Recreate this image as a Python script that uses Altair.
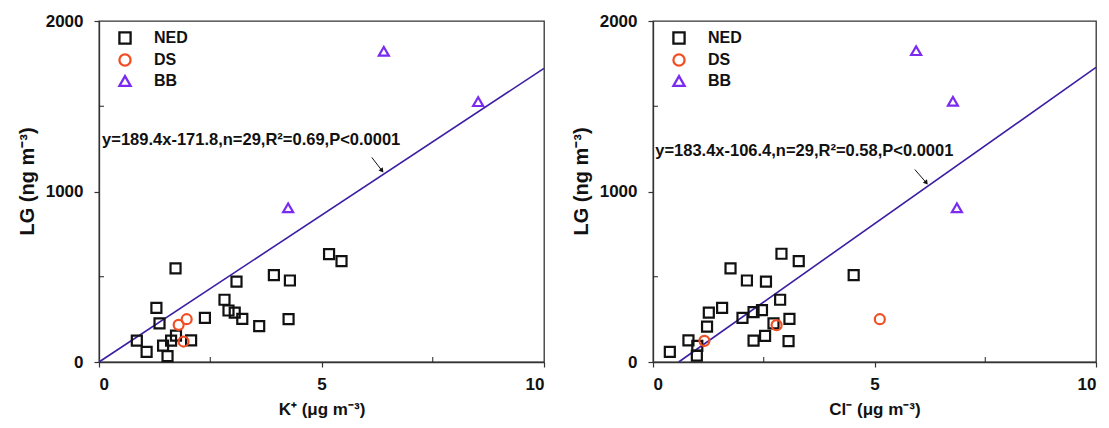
import altair as alt
import pandas as pd

groups = ["NED", "DS", "BB"]
colors = ["#111111", "#F04E23", "#7B2BF0"]
shapes = ["square", "circle", "triangle-up"]
line_color = "#3C1EA5"
FONT = "Liberation Sans"

# Left panel: K+ vs LG
k_ned_x = [0.85, 1.07, 1.54, 1.44, 1.62, 1.73, 2.07, 1.36, 1.29, 1.72, 2.38,
           2.82, 2.91, 3.05, 3.09, 3.22, 3.60, 3.93, 4.29, 4.26, 5.17, 5.45]
k_ned_y = [125, 59, 35, 96, 125, 155, 127, 227, 317, 549, 259,
           365, 302, 290, 471, 253, 210, 510, 478, 251, 633, 592]
k_ds_x = [1.79, 1.97, 1.90]
k_ds_y = [218, 251, 120]
k_bb_x = [6.40, 8.52, 4.25]
k_bb_y = [1822, 1527, 904]
k_line_x = [0, 10]
k_line_y = [0, 1722]
k_eq = "y=189.4x-171.8,n=29,R²=0.69,P<0.0001"
k_eq_pos = [0.07, 1273]
k_arrow = [6.13, 1200, 6.36, 1122]

# Right panel: Cl- vs LG
cl_ned_x = [0.38, 0.99, 1.00, 0.80, 1.22, 1.26, 1.56, 1.75, 2.02, 2.12, 2.27,
            2.27, 2.46, 2.53, 2.55, 2.72, 2.87, 2.90, 3.08, 3.06, 3.29, 4.53]
cl_ned_y = [59, 37, 94, 127, 208, 290, 318, 549, 259, 478, 292,
            125, 304, 153, 471, 227, 365, 635, 253, 122, 592, 510]
cl_ds_x = [1.16, 2.79, 5.12]
cl_ds_y = [124, 216, 251]
cl_bb_x = [5.94, 6.77, 6.86]
cl_bb_y = [1826, 1529, 904]
cl_line_x = [0.58, 10]
cl_line_y = [0, 1727.6]
cl_eq = "y=183.4x-106.4,n=29,R²=0.58,P<0.0001"
cl_eq_pos = [0.05, 1208]
cl_arrow = [5.91, 1129, 6.17, 1051]

x_ticks = [0, 5, 10]
y_ticks = [0, 1000, 2000]
x_minor = [2.5, 7.5]
y_minor = [500, 1500]


def panel(nx, ny, dx, dy, bx, by, lx, ly, eq, eqp, arr, xtitle, width):
    height = 341
    pts = pd.DataFrame({
        "x": nx + dx + bx,
        "y": ny + dy + by,
        "g": ["NED"] * len(nx) + ["DS"] * len(dx) + ["BB"] * len(bx),
    })
    xs = alt.Scale(domain=[0, 10], nice=False, zero=False)
    ys = alt.Scale(domain=[0, 2000], nice=False)
    xax = alt.Axis(values=x_ticks, title=xtitle, grid=False, labelPadding=9,
                   titlePadding=9, tickSize=5, format="d")
    yax = alt.Axis(values=y_ticks, title="LG (ng m⁻³)", grid=False, labelPadding=11,
                   titlePadding=8, tickSize=5, format="d", titleFontSize=20, titleY=160)
    X = lambda f: alt.X(f, type="quantitative", scale=xs, axis=xax)
    Y = lambda f: alt.Y(f, type="quantitative", scale=ys, axis=yax)

    leg = alt.Legend(title=None, orient="none", legendX=18, legendY=9,
                     labelFont=FONT, labelFontWeight="bold", labelFontSize=16,
                     labelColor="#111", symbolSize=125, symbolStrokeWidth=2.3,
                     symbolFillColor="white", rowPadding=0, labelOffset=21,
                     padding=0)
    points = alt.Chart(pts).mark_point(filled=False, size=100, strokeWidth=2.2, opacity=1).encode(
        x=X("x"), y=Y("y"),
        color=alt.Color("g:N", scale=alt.Scale(domain=groups, range=colors), legend=leg),
        shape=alt.Shape("g:N", scale=alt.Scale(domain=groups, range=shapes), legend=leg),
    )
    ldf = pd.DataFrame({"x": lx, "y": ly})
    line = alt.Chart(ldf).mark_line(color=line_color, strokeWidth=1.6).encode(x=X("x"), y=Y("y"))

    tdf = pd.DataFrame({"x": [eqp[0]], "y": [eqp[1]], "t": [eq]})
    text = alt.Chart(tdf).mark_text(align="left", baseline="alphabetic", font=FONT,
                                    fontWeight="bold", fontSize=16.5, color="#111").encode(
        x=X("x"), y=Y("y"), text="t:N")

    adf = pd.DataFrame({"x": [arr[0]], "y": [arr[1]], "x2": [arr[2]], "y2": [arr[3]]})
    arrow = alt.Chart(adf).mark_rule(color="#111", strokeWidth=1).encode(
        x=X("x"), y=Y("y"), x2="x2", y2="y2")
    hdf = pd.DataFrame({"x": [arr[2]], "y": [arr[3]]})
    head = alt.Chart(hdf).mark_point(shape="triangle-right", filled=True, size=28,
                                     color="#111", angle=52, opacity=1).encode(
        x=X("x"), y=Y("y"))

    xm = pd.DataFrame({"x": x_minor})
    xminor = alt.Chart(xm).mark_rule(color="#222", strokeWidth=1).encode(
        x=X("x"), y=alt.value(height), y2=alt.value(height - 5))
    ym = pd.DataFrame({"y": y_minor})
    yminor = alt.Chart(ym).mark_rule(color="#222", strokeWidth=1).encode(
        y=Y("y"), x=alt.value(0), x2=alt.value(5))

    return alt.layer(xminor, yminor, line, arrow, head, text, points).properties(
        width=width, height=height)


left = panel(k_ned_x, k_ned_y, k_ds_x, k_ds_y, k_bb_x, k_bb_y, k_line_x, k_line_y,
             k_eq, k_eq_pos, k_arrow, "K⁺ (μg m⁻³)", 445)
right = panel(cl_ned_x, cl_ned_y, cl_ds_x, cl_ds_y, cl_bb_x, cl_bb_y, cl_line_x, cl_line_y,
              cl_eq, cl_eq_pos, cl_arrow, "Cl⁻ (μg m⁻³)", 443)

chart = alt.hconcat(left, right, spacing=22).resolve_scale(
    color="independent", shape="independent"
).properties(
    padding={"left": 16, "top": 11, "right": 0, "bottom": 0},
    background="white",
).configure_view(
    stroke="#333", strokeWidth=1.3
).configure_axis(
    labelFont=FONT, labelFontWeight="bold", labelFontSize=17, labelColor="#111",
    titleFont=FONT, titleFontWeight="bold", titleFontSize=17, titleColor="#111",
    domainColor="#333", domainWidth=1.3, tickColor="#333", tickWidth=1.2,
)

chart.save("out.html", embed_options={"renderer": "svg", "actions": False})
